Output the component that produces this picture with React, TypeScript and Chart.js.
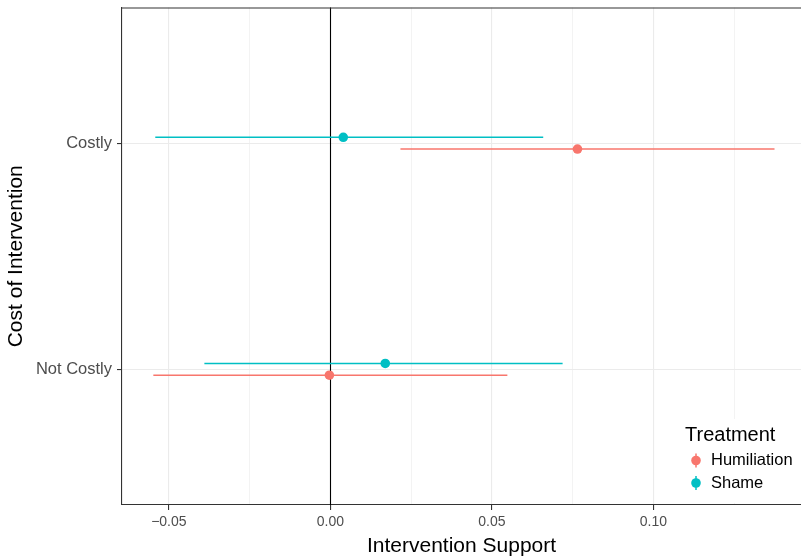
import React, { useEffect, useRef } from "react";
import { Chart, registerables } from "chart.js";

Chart.register(...registerables);

// ---- data ----
const categories = ["Not Costly", "Costly"]; // y positions 1, 2
const treatments = ["Humiliation", "Shame"];
const treatmentColors = ["#F8766D", "#00BFC4"];
const dodge = [-0.026, 0.026];

const humiliationEst = [-0.0003, 0.0765];
const humiliationLow = [-0.0548, 0.0217];
const humiliationHigh = [0.0548, 0.1375];

const shameEst = [0.017, 0.004];
const shameLow = [-0.039, -0.0542];
const shameHigh = [0.0719, 0.0659];

const xTickValues = [-0.05, -0.025, 0, 0.025, 0.05, 0.075, 0.1, 0.125];
const xTickLabels = ["\u22120.05", "", "0.00", "", "0.05", "", "0.10", ""];
const xMin = -0.0645;
const xMax = 0.1457;
const yMin = 0.4;
const yMax = 2.6;

const FONT = "'Liberation Sans', Arial, Helvetica, sans-serif";

const estimates = [humiliationEst, shameEst];
const lows = [humiliationLow, shameLow];
const highs = [humiliationHigh, shameHigh];

export default function App() {
  const ref = useRef<HTMLCanvasElement | null>(null);

  useEffect(() => {
    if (!ref.current) return;
    const datasets: any[] = [];
    treatments.forEach((t, ti) => {
      categories.forEach((c, ci) => {
        datasets.push({
          label: t + " " + c + " interval",
          data: [
            { x: lows[ti][ci], y: ci + 1 + dodge[ti] },
            { x: highs[ti][ci], y: ci + 1 + dodge[ti] },
          ],
          showLine: true,
          borderColor: treatmentColors[ti],
          borderWidth: 1.5,
          pointRadius: 0,
          pointHoverRadius: 0,
        });
      });
    });
    treatments.forEach((t, ti) => {
      datasets.push({
        label: t,
        data: categories.map((c, ci) => ({ x: estimates[ti][ci], y: ci + 1 + dodge[ti] })),
        showLine: false,
        backgroundColor: treatmentColors[ti],
        borderColor: treatmentColors[ti],
        borderWidth: 0,
        pointRadius: 4.8,
        pointHoverRadius: 4.8,
      });
    });

    const panelPlugin = {
      id: "panel",
      beforeDatasetsDraw(chart: any) {
        const { ctx, chartArea, scales } = chart;
        const x0 = Math.round(scales.x.getPixelForValue(0)) + 0.5;
        ctx.save();
        ctx.strokeStyle = "#000000";
        ctx.lineWidth = 1.1;
        ctx.beginPath();
        ctx.moveTo(x0, chartArea.top);
        ctx.lineTo(x0, chartArea.bottom);
        ctx.stroke();
        // top border
        ctx.strokeStyle = "#333333";
        ctx.lineWidth = 1.1;
        ctx.beginPath();
        ctx.moveTo(chartArea.left, chartArea.top + 0.5);
        ctx.lineTo(chartArea.right + 2, chartArea.top + 0.5);
        ctx.stroke();
        ctx.restore();
      },
      afterDraw(chart: any) {
        const { ctx } = chart;
        ctx.save();
        ctx.fillStyle = "#ffffff";
        ctx.fillRect(676, 419, 125, 84);
        ctx.fillStyle = "#000000";
        ctx.textBaseline = "middle";
        ctx.textAlign = "left";
        ctx.font = `20px ${FONT}`;
        ctx.fillText("Treatment", 685, 435.5);
        treatments.forEach((t, i) => {
          const cy = 460.5 + i * 22.5;
          const cx = 696;
          ctx.strokeStyle = treatmentColors[i];
          ctx.lineWidth = 1.5;
          ctx.beginPath();
          ctx.moveTo(cx, cy - 7);
          ctx.lineTo(cx, cy + 7);
          ctx.stroke();
          ctx.fillStyle = treatmentColors[i];
          ctx.beginPath();
          ctx.arc(cx, cy, 4.8, 0, Math.PI * 2);
          ctx.fill();
          ctx.fillStyle = "#000000";
          ctx.font = `16.5px ${FONT}`;
          ctx.fillText(t, 711, cy);
        });
        ctx.restore();
      },
    };

    const chart = new Chart(ref.current, {
      type: "scatter",
      data: { datasets },
      plugins: [panelPlugin],
      options: {
        animation: false,
        responsive: false,
        maintainAspectRatio: false,
        layout: { autoPadding: false, padding: { left: 0, top: 7.5, right: 0, bottom: 0 } },
        plugins: { legend: { display: false }, tooltip: { enabled: false } },
        scales: {
          x: {
            type: "linear",
            min: xMin,
            max: xMax,
            afterBuildTicks: (scale: any) => {
              scale.ticks = xTickValues.map((v) => ({ value: v }));
            },
            afterFit: (scale: any) => {
              scale.height = 52;
              scale.paddingLeft = 0;
              scale.paddingRight = 0;
            },
            ticks: {
              autoSkip: false,
              maxRotation: 0,
              padding: 4,
              color: "#4d4d4d",
              font: { family: FONT, size: 14 },
              callback: (v: any, i: number) => xTickLabels[i],
            },
            grid: {
              color: "#ebebeb",
              lineWidth: (c: any) => (c.index % 2 === 0 ? 1.1 : 0.6),
              tickLength: 5,
              tickColor: (c: any) => (c.index % 2 === 0 ? "#333333" : "rgba(0,0,0,0)"),
              tickWidth: 1.1,
            },
            border: { color: "#333333", width: 1.1 },
            title: {
              display: true,
              text: "Intervention Support",
              color: "#000000",
              font: { family: FONT, size: 21, lineHeight: 1 },
              padding: { top: 0, bottom: 0.5 },
            },
          },
          y: {
            type: "linear",
            min: yMin,
            max: yMax,
            afterBuildTicks: (scale: any) => {
              scale.ticks = categories.map((c, i) => ({ value: i + 1 }));
            },
            afterFit: (scale: any) => {
              scale.width = 122;
              scale.paddingTop = 0;
              scale.paddingBottom = 0;
            },
            ticks: {
              autoSkip: false,
              padding: 5,
              color: "#4d4d4d",
              font: { family: FONT, size: 16.5 },
              callback: (v: any, i: number) => categories[i],
            },
            grid: {
              color: "#ebebeb",
              lineWidth: 1.1,
              tickLength: 5,
              tickColor: "#333333",
              tickWidth: 1.1,
            },
            border: { color: "#333333", width: 1.1 },
            title: {
              display: true,
              text: "Cost of Intervention",
              color: "#000000",
              font: { family: FONT, size: 21, lineHeight: 1 },
              padding: { top: 5.5, bottom: 0 },
            },
          },
        },
      } as any,
    });
    return () => chart.destroy();
  }, []);

  return (
    <div style={{ position: "absolute", left: 0, top: 0, width: 801, height: 557, background: "#fff" }}>
      <canvas ref={ref} width={801} height={557} style={{ display: "block", width: 801, height: 557 }} />
    </div>
  );
}
